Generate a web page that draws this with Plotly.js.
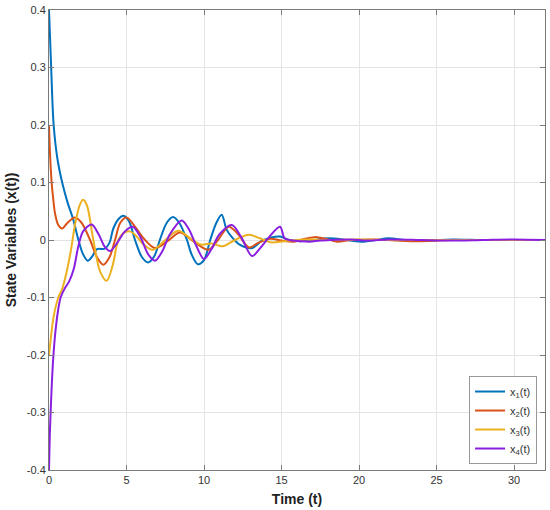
<!DOCTYPE html>
<html>
<head>
<meta charset="utf-8">
<script src="https://cdn.plot.ly/plotly-3.0.1.min.js"></script>
<style>html,body{margin:0;padding:0;background:#fff;}#chart{width:550px;height:510px;}</style>
</head>
<body>
<div id="chart"></div>
<script>
// Series names
const seriesNames = ["x<sub>1</sub>(t)", "x<sub>2</sub>(t)", "x<sub>3</sub>(t)", "x<sub>4</sub>(t)"];

// x1(t)
const t1 = [0, 0.14, 0.3, 0.55, 0.85, 1.2, 1.57, 1.9, 2.2, 2.5, 2.8, 3.1, 3.6, 3.9, 4.15, 4.5, 4.8, 5.15, 5.55, 6.0, 6.4, 6.8, 7.15, 7.6, 8.0, 8.4, 8.9, 9.2, 9.6, 10.0, 10.4, 10.8, 11.14, 11.46, 11.8, 12.3, 13.1, 13.7, 14.4, 14.9, 15.5, 16.2, 16.8, 18.1, 19.2, 20.3, 21.1, 21.9, 23.0, 24.5, 26.0, 28.0, 30.0, 32.0];
const x1 = [0.4, 0.3, 0.2, 0.14, 0.1, 0.065, 0.035, 0.0, -0.025, -0.036, -0.028, -0.016, -0.015, -0.005, 0.02, 0.037, 0.042, 0.033, 0.0, -0.03, -0.039, -0.028, 0.0, 0.03, 0.040, 0.03, 0.0, -0.025, -0.042, -0.035, 0.0, 0.03, 0.044, 0.018, 0.005, -0.008, -0.014, -0.002, 0.005, 0.006, 0.0, -0.002, -0.001, 0.003, 0.0, -0.003, 0.0, 0.003, 0.0, -0.001, 0.001, 0.0, 0.0, 0.0];

// x2(t)
const t2 = [0, 0.05, 0.17, 0.28, 0.39, 0.6, 0.85, 1.2, 1.68, 2.1, 2.65, 3.1, 3.5, 3.9, 4.26, 4.6, 5.0, 5.5, 6.1, 6.84, 7.6, 8.45, 9.3, 10.3, 10.9, 11.6, 12.2, 12.9, 13.5, 14.3, 15.0, 15.8, 16.5, 17.3, 18.0, 18.6, 19.5, 21.0, 22.5, 24.0, 26.0, 28.0, 30.0, 32.0];
const x2 = [0.2, 0.16, 0.1, 0.07, 0.046, 0.026, 0.02, 0.03, 0.039, 0.03, 0.0, -0.03, -0.043, -0.03, 0.0, 0.03, 0.039, 0.025, 0.003, -0.014, -0.003, 0.013, -0.002, -0.017, 0.0, 0.023, 0.01, -0.013, -0.005, 0.002, -0.001, -0.003, 0.002, 0.005, 0.001, -0.003, 0.0, 0.001, -0.001, -0.002, 0.0, 0.0, 0.0, 0.0];

// x3(t)
const t3 = [0, 0.1, 0.3, 0.6, 0.85, 1.1, 1.4, 1.7, 2.0, 2.2, 2.45, 2.86, 3.3, 3.72, 4.1, 4.47, 4.8, 5.2, 5.6, 6.0, 6.7, 7.5, 8.34, 9.1, 9.8, 10.5, 11.2, 12.0, 12.9, 13.6, 14.3, 15.2, 16.5, 18.0, 20.0, 22.0, 25.0, 28.0, 32.0];
const x3 = [-0.2, -0.175, -0.133, -0.1, -0.085, -0.06, -0.02, 0.03, 0.062, 0.07, 0.06, 0.0, -0.055, -0.071, -0.045, 0.0, 0.012, 0.015, 0.008, -0.005, -0.017, 0.0, 0.016, 0.003, -0.008, -0.006, -0.011, 0.0, 0.009, 0.003, -0.004, -0.002, 0.001, 0.0, 0.001, 0.0, 0.0, 0.0, 0.0];

// x4(t)
const t4 = [0, 0.05, 0.12, 0.2, 0.3, 0.45, 0.6, 0.75, 1.0, 1.3, 1.6, 1.9, 2.2, 2.75, 3.2, 3.6, 3.94, 4.4, 4.9, 5.4, 5.9, 6.4, 6.84, 7.3, 7.8, 8.56, 9.0, 9.5, 10.0, 10.5, 11.0, 11.8, 12.4, 13.1, 13.6, 14.2, 14.9, 15.2, 15.5, 16.2, 16.8, 17.5, 18.3, 19.5, 20.5, 22.0, 24.0, 26.0, 28.0, 30.0, 32.0];
const x4 = [-0.4, -0.34, -0.29, -0.24, -0.195, -0.15, -0.12, -0.1, -0.085, -0.072, -0.05, -0.01, 0.015, 0.027, 0.01, -0.012, -0.019, -0.005, 0.015, 0.023, 0.005, -0.025, -0.036, -0.02, 0.01, 0.034, 0.02, -0.01, -0.033, -0.015, 0.01, 0.026, 0.005, -0.028, -0.015, 0.005, 0.023, 0.003, 0.0, -0.002, -0.003, -0.001, 0.0, 0.001, -0.001, 0.001, 0.0, -0.001, 0.0, 0.001, 0.0];

// Tick labels
const xTickVals = [0, 5, 10, 15, 20, 25, 30];
const xTickLabels = ["0", "5", "10", "15", "20", "25", "30"];
const yTickVals = [-0.4, -0.3, -0.2, -0.1, 0, 0.1, 0.2, 0.3, 0.4];
const yTickLabels = ["-0.4", "-0.3", "-0.2", "-0.1", "0", "0.1", "0.2", "0.3", "0.4"];

const colors = ["#0072BD", "#D95319", "#EDB120", "#8A1FE0"];
const tArrs = [t1, t2, t3, t4];
const xArrs = [x1, x2, x3, x4];

const traces = xArrs.map((v, i) => ({
  x: tArrs[i], y: v, type: "scatter", mode: "lines", name: seriesNames[i],
  line: {color: colors[i], width: 2, shape: "spline", smoothing: 0.9}
}));

const axisCommon = {
  showline: true, mirror: "ticks", linecolor: "#7a7a7a", linewidth: 1,
  ticks: "inside", ticklen: 5, tickcolor: "#7a7a7a",
  showgrid: true, gridcolor: "#e4e4e4", gridwidth: 1, zeroline: false,
  tickfont: {family: "Liberation Sans, Arial, sans-serif", size: 11, color: "#333"}
};

const layout = {
  width: 550, height: 510,
  margin: {l: 49, r: 5, t: 10, b: 40},
  paper_bgcolor: "#fff", plot_bgcolor: "#fff",
  showlegend: true,
  xaxis: Object.assign({}, axisCommon, {
    range: [0, 32], tickmode: "array", tickvals: xTickVals, ticktext: xTickLabels,
    title: {text: "<b>Time (t)</b>", standoff: 8, font: {family: "Liberation Sans, Arial, sans-serif", size: 14, color: "#222"}}
  }),
  yaxis: Object.assign({}, axisCommon, {
    range: [-0.4, 0.4], tickmode: "array", tickvals: yTickVals, ticktext: yTickLabels,
    title: {text: "<b>State Variables (x(t))</b>", standoff: 6, font: {family: "Liberation Sans, Arial, sans-serif", size: 14, color: "#222"}}
  }),
  legend: {
    x: 0.984, y: 0.013, xanchor: "right", yanchor: "bottom",
    bgcolor: "#fff", bordercolor: "#999", borderwidth: 1,
    font: {family: "Liberation Sans, Arial, sans-serif", size: 11, color: "#333"},
    tracegroupgap: 0
  }
};

Plotly.newPlot("chart", traces, layout, {displayModeBar: false, staticPlot: true});
</script>
</body>
</html>
